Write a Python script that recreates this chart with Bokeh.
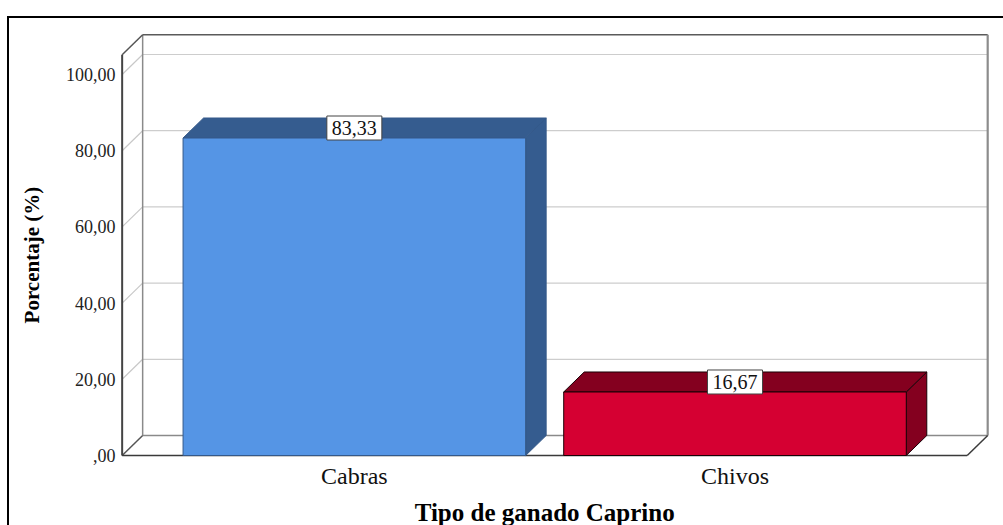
from bokeh.plotting import figure
from bokeh.models import Range1d
from bokeh.core.properties import value
from bokeh.embed import file_html
from bokeh.resources import INLINE

# ---------------- data ----------------
categories = ["Cabras", "Chivos"]
percentages = [83.33, 16.67]
y_ticks = [0, 20, 40, 60, 80, 100]
front_colors = ["#5595E5", "#D50032"]
shade_colors = ["#355C8F", "#84001F"]
edge_colors = ["#34598A", "#1A0006"]
x_title = "Tipo de ganado Caprino"
y_title = "Porcentaje (%)"


def fmt(v):
    s = f"{v:.2f}".replace(".", ",")
    return s[1:] if s.startswith("0,") else s


# ---------------- layout constants ----------------
W, H = 1003, 525
PX_X = 380.65          # pixels per category step
PX_Y = 3.81            # pixels per percentage point
ZERO_X, ZERO_Y = 353.85, 455   # pixel position of first category / value 0


def dx_px(px):
    return (px - ZERO_X) / PX_X


def dy_px(py):
    return (ZERO_Y - py) / PX_Y


Y_MAX = 105.2
DX = 20.5 / PX_X       # depth offset (x)
DY = 20.0 / PX_Y       # depth offset (y)
FLOOR_L, FLOOR_R = -0.61, 1.61
BAR_W = 0.9
SERIF = "Liberation Serif"

p = figure(
    width=W, height=H,
    x_range=Range1d(dx_px(0), dx_px(W)),
    y_range=Range1d(dy_px(H), dy_px(0)),
    output_backend="svg", toolbar_location=None,
    min_border=0,
)
p.axis.visible = False
p.border_fill_color = None
p.background_fill_color = None
p.outline_line_color = None
p.xgrid.visible = False
p.ygrid.visible = False
p.styles = {
    "background-image": "linear-gradient(#000,#000), linear-gradient(#000,#000)",
    "background-size": "100% 2px, 2px 100%",
    "background-position": "8px 16px, 7px 16px",
    "background-repeat": "no-repeat",
}

# ---------------- back wall ----------------
p.quad(left=[FLOOR_L + DX], right=[FLOOR_R + DX], bottom=[DY], top=[Y_MAX + DY],
       fill_color="white", line_color=None)
grid_t = [t for t in y_ticks if t > 0]
p.segment(x0=[FLOOR_L + DX] * len(grid_t), x1=[FLOOR_R + DX] * len(grid_t),
          y0=[t + DY for t in grid_t], y1=[t + DY for t in grid_t],
          line_color="#cdcdcd", line_width=1.2)
# left wall diagonals
p.segment(x0=[FLOOR_L] * len(grid_t), x1=[FLOOR_L + DX] * len(grid_t),
          y0=grid_t, y1=[t + DY for t in grid_t],
          line_color="#c8c8c8", line_width=1.2)
# back wall edges
p.segment(x0=[FLOOR_L + DX, FLOOR_L + DX], x1=[FLOOR_R + DX, FLOOR_L + DX],
          y0=[DY, DY], y1=[DY, Y_MAX + DY], line_color="#8a8a8a", line_width=1.5)
p.segment(x0=[FLOOR_L + DX], x1=[FLOOR_R + DX], y0=[Y_MAX + DY], y1=[Y_MAX + DY],
          line_color="#5a5a5a", line_width=1.5)
p.segment(x0=[FLOOR_R + DX], x1=[FLOOR_R + DX], y0=[DY], y1=[Y_MAX + DY],
          line_color="#8c8c8c", line_width=2.2)
# left wall outer edges
p.segment(x0=[FLOOR_L, FLOOR_L], x1=[FLOOR_L + DX, FLOOR_L + DX],
          y0=[Y_MAX, 0], y1=[Y_MAX + DY, DY], line_color="#555555", line_width=1.5)
p.segment(x0=[FLOOR_L], x1=[FLOOR_L], y0=[0], y1=[Y_MAX],
          line_color="#444444", line_width=2)
# floor front edges
p.segment(x0=[FLOOR_L, FLOOR_R], x1=[FLOOR_R, FLOOR_R + DX],
          y0=[0, 0], y1=[0, DY], line_color="#3a3a3a", line_width=1.5)

# ---------------- bars ----------------
xs = list(range(len(categories)))
side_x, side_y, top_x, top_y = [], [], [], []
for x, v in zip(xs, percentages):
    r = x + BAR_W / 2
    l = x - BAR_W / 2
    side_x.append([r, r + DX, r + DX, r])
    side_y.append([0, DY, v + DY, v])
    top_x.append([l, l + DX, r + DX, r])
    top_y.append([v, v + DY, v + DY, v])
p.patches(side_x, side_y, fill_color=shade_colors, line_color=edge_colors, line_width=1)
p.patches(top_x, top_y, fill_color=shade_colors, line_color=edge_colors, line_width=1)
p.quad(left=[x - BAR_W / 2 for x in xs], right=[x + BAR_W / 2 for x in xs],
       bottom=[0] * len(xs), top=percentages,
       fill_color=front_colors, line_color=edge_colors, line_width=1)

# value labels
p.text(x=xs, y=[v + DY / 2 for v in percentages], text=[fmt(v) for v in percentages],
       text_align="center", text_baseline="middle",
       text_font=value(SERIF), text_font_size="20px", text_color="#111111",
       background_fill_color="white", border_line_color="#444444",
       border_line_width=1, padding=5)

# ---------------- tick labels & titles ----------------
p.text(x=[dx_px(115)] * len(y_ticks), y=y_ticks, text=[fmt(t) for t in y_ticks],
       text_align="right", text_baseline="middle",
       text_font=value(SERIF), text_font_size="18px", text_color="#222222")
p.text(x=xs, y=[dy_px(475)] * len(xs), text=categories,
       text_align="center", text_baseline="middle",
       text_font=value(SERIF), text_font_size="24px", text_color="#111111")
p.text(x=[(FLOOR_L + FLOOR_R) / 2], y=[dy_px(512)], text=[x_title],
       text_align="center", text_baseline="middle",
       text_font=value(SERIF), text_font_size="25px", text_font_style="bold",
       text_color="#000000")
p.text(x=[dx_px(31)], y=[Y_MAX / 2], text=[y_title], angle=90, angle_units="deg",
       text_align="center", text_baseline="middle",
       text_font=value(SERIF), text_font_size="21px", text_font_style="bold",
       text_color="#000000")

open("out.html", "w").write(file_html(p, INLINE))
